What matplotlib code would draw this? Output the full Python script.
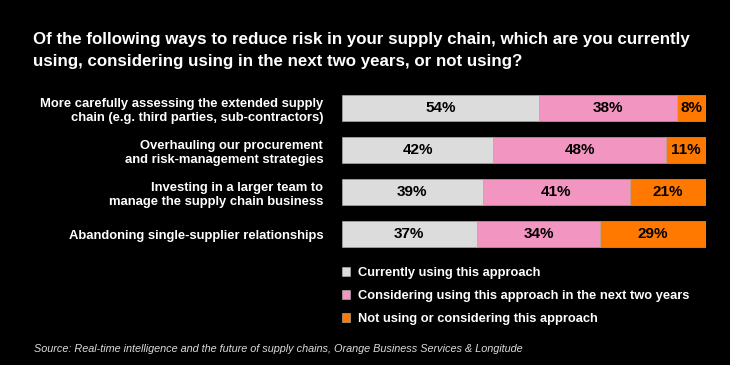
import matplotlib
matplotlib.use("Agg")
import matplotlib.pyplot as plt
import numpy as np

categories = [
    "More carefully assessing the extended supply\nchain (e.g. third parties, sub-contractors)",
    "Overhauling our procurement\nand risk-management strategies",
    "Investing in a larger team to\nmanage the supply chain business",
    "Abandoning single-supplier relationships",
]
series_names = [
    "Currently using this approach",
    "Considering using this approach in the next two years",
    "Not using or considering this approach",
]
currently = [54, 42, 39, 37]
considering = [38, 48, 41, 34]
not_using = [8, 11, 21, 29]
colors = ["#dcdcdc", "#f295c0", "#ff7900"]

title = ("Of the following ways to reduce risk in your supply chain, which are you currently\n"
         "using, considering using in the next two years, or not using?")
source = ("Source: Real-time intelligence and the future of supply chains, "
          "Orange Business Services & Longitude")

plt.rcParams['font.family'] = ['Liberation Sans', 'DejaVu Sans']

fig = plt.figure(figsize=(7.3, 3.65), dpi=100, facecolor="black")
W, H = 730, 365
ax = fig.add_axes([342 / W, 1 - 255 / H, (706 - 342) / W, 168 / H])
ax.set_facecolor("black")

data = np.array([currently, considering, not_using], dtype=float)
totals = data.sum(axis=0)
norm = data / totals * 100
y = np.arange(len(categories))
left = np.zeros(len(categories))
handles = []
for i in range(3):
    bars = ax.barh(y, norm[i], left=left, height=0.62, color=colors[i],
                   edgecolor="#bbbbbb", linewidth=0.4, label=series_names[i])
    handles.append(bars)
    for j in range(len(categories)):
        ax.text(left[j] + norm[i][j] / 2, y[j], f"{int(data[i][j])}%",
                ha="center", va="center", fontsize=11, fontweight="bold",
                color="black")
    left += norm[i]

ax.set_xlim(0, 100)
ax.set_ylim(len(categories) - 0.5, -0.5)
ax.set_yticks(y)
ax.set_yticklabels(categories, fontsize=9.4, fontweight="bold", color="white",
                   linespacing=1.3)
ax.tick_params(axis="y", length=0, pad=13.5)
ax.set_xticks([])
for s in ax.spines.values():
    s.set_visible(False)

fig.text(33 / W, 1 - 32 / H, title, fontsize=12.2, fontweight="bold", color="white",
         va="top", ha="left", linespacing=1.6)

leg = fig.legend(handles=handles, labels=series_names, loc="upper left",
                 bbox_to_anchor=(342 / W, 1 - 267 / H), frameon=False,
                 fontsize=9.3, handlelength=0.65, handleheight=0.65,
                 handletextpad=0.6, labelspacing=0.85, borderaxespad=0,
                 borderpad=0)
for t in leg.get_texts():
    t.set_color("white")
    t.set_fontweight("bold")

fig.text(34 / W, 1 - 349 / H, source, fontsize=7.85, style="italic", color="#dddddd",
         va="center", ha="left")

fig.savefig("out.png", dpi=100, facecolor="black")
